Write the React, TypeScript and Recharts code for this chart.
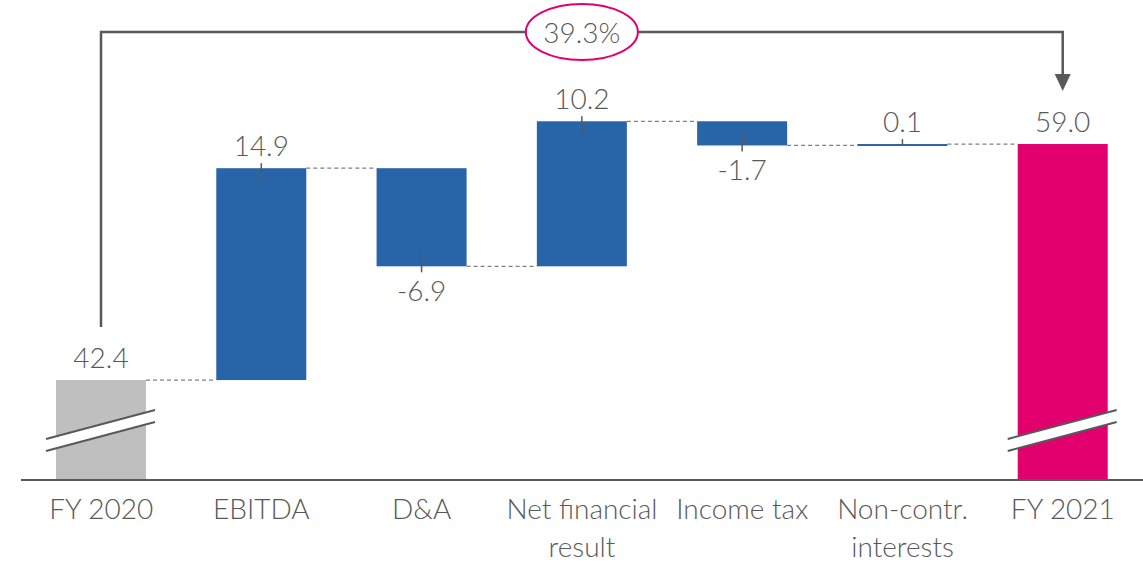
import { BarChart, Bar, XAxis, YAxis, LabelList, Cell } from 'recharts'

// net income walk, FY 2020 -> FY 2021
const categories = ['FY 2020', 'EBITDA', 'D&A', 'Net financial result', 'Income tax', 'Non-contr. interests', 'FY 2021']
const tickLines = [['FY 2020'], ['EBITDA'], ['D&A'], ['Net financial', 'result'], ['Income tax'], ['Non-contr.', 'interests'], ['FY 2021']]
const changes = [42.4, 14.9, -6.9, 10.2, -1.7, 0.1, 59.0]
const isTotal = [true, false, false, false, false, false, true]
const growthLabel = '39.3%'

const AXIS_MIN = 35.37
const AXIS_MAX = 69.13

const W = 1143
const H = 564
const MARGIN = { top: 0, right: 0, left: 21, bottom: 24 }
const BAND = (W - MARGIN.left - MARGIN.right) / categories.length

const TEXT = '#595959'
const FONT = 'Lato, "Open Sans", sans-serif'
const FONT_SIZE = 28
const BLUE = '#2864a8'
const GREY = '#bfbfbf'
const MAGENTA = '#e2006f'

let running = 0
const data = categories.map((name, i) => {
  let lo: number
  let hi: number
  if (isTotal[i]) {
    lo = AXIS_MIN
    hi = changes[i]
    running = changes[i]
  } else {
    const start = running
    running = start + changes[i]
    lo = Math.min(start, running)
    hi = Math.max(start, running)
  }
  return { name, range: [lo, hi], value: changes[i] }
})

const barColor = (i: number) => (i === 0 ? GREY : i === categories.length - 1 ? MAGENTA : BLUE)

const WaterfallShape = (props: any) => {
  const { x, y, width, height, index, fill } = props
  const top = Math.min(y, y + height)
  const h = Math.abs(height)
  const bottom = top + h
  const cx = x + width / 2
  const v = changes[index]
  const total = isTotal[index]
  const up = total || v >= 0
  const endY = up ? top : bottom
  const inside = Math.min(15, h / 2)
  const last = index === categories.length - 1

  return (
    <g>
      <rect x={x} y={top} width={width} height={Math.max(h, 2)} fill={fill} />
      {!total && (
        <line
          x1={cx}
          x2={cx}
          y1={up ? top - 5 : bottom - inside}
          y2={up ? top + inside : bottom + 6}
          stroke={TEXT}
          strokeWidth={1.5}
        />
      )}
      {!last && (
        <line
          x1={x + width}
          x2={x + BAND}
          y1={endY}
          y2={endY}
          stroke="#808080"
          strokeWidth={1.2}
          strokeDasharray="4 3"
        />
      )}
      {total && (
        <g>
          <polygon
            points={`${x - 10},${bottom - 41} ${x + width + 9},${bottom - 70} ${x + width + 9},${bottom - 58} ${x - 10},${bottom - 29}`}
            fill="#fff"
          />
          <line x1={x - 10} y1={bottom - 41} x2={x + width + 9} y2={bottom - 70} stroke={TEXT} strokeWidth={2} />
          <line x1={x - 10} y1={bottom - 29} x2={x + width + 9} y2={bottom - 58} stroke={TEXT} strokeWidth={2} />
        </g>
      )}
      {index === 0 && <GrowthArrow fromX={cx} toX={cx + BAND * (categories.length - 1)} startY={top - 53} />}
    </g>
  )
}

// bracket arrow from first total to last total, with the growth bubble
const GrowthArrow = ({ fromX, toX, startY }: { fromX: number; toX: number; startY: number }) => {
  const lineY = 32
  const mid = (fromX + toX) / 2
  return (
    <g>
      <polyline
        points={`${fromX},${startY} ${fromX},${lineY} ${toX},${lineY} ${toX},${76}`}
        fill="none"
        stroke={TEXT}
        strokeWidth={2.5}
      />
      <polygon points={`${toX - 8},${74} ${toX + 8},${74} ${toX},${91}`} fill={TEXT} />
      <ellipse cx={mid} cy={lineY} rx={56} ry={28} fill="#fff" stroke={MAGENTA} strokeWidth={2} />
      <text x={mid} y={lineY + 11} textAnchor="middle" fontFamily={FONT} fontWeight={300} fontSize={FONT_SIZE} fill={TEXT}>
        {growthLabel}
      </text>
    </g>
  )
}

const renderValueLabel = (props: any) => {
  const vb = props.viewBox && props.viewBox.width !== undefined ? props.viewBox : props
  const { x, y, width, height } = vb
  const index = props.index
  const top = Math.min(y, y + height)
  const bottom = Math.max(y, y + height)
  const v = changes[index]
  const up = isTotal[index] || v >= 0
  return (
    <text
      x={x + width / 2}
      y={up ? top - 12 : bottom + 35}
      textAnchor="middle"
      fontFamily={FONT}
      fontWeight={300}
      fontSize={FONT_SIZE}
      fill={TEXT}
    >
      {v.toFixed(1)}
    </text>
  )
}

const CategoryTick = (props: any) => {
  const { x, y, index } = props
  const lines = tickLines[index] || [props.payload.value]
  return (
    <g>
      {lines.map((line: string, k: number) => (
        <text
          key={k}
          x={x}
          y={y + 37 + k * 38}
          textAnchor="middle"
          fontFamily={FONT}
          fontWeight={300}
          fontSize={FONT_SIZE}
          fill={TEXT}
        >
          {line}
        </text>
      ))}
    </g>
  )
}

export default function App() {
  return (
    <div style={{ position: 'absolute', left: 0, top: 0, width: W, height: H, background: '#fff' }}>
      <BarChart width={W} height={H} data={data} margin={MARGIN} barSize={90}>
        <XAxis
          dataKey="name"
          height={60}
          interval={0}
          tickLine={false}
          tickSize={0}
          axisLine={{ stroke: TEXT, strokeWidth: 2 }}
          tick={<CategoryTick />}
        />
        <YAxis hide type="number" domain={[AXIS_MIN, AXIS_MAX]} allowDataOverflow />
        <Bar dataKey="range" isAnimationActive={false} shape={<WaterfallShape />}>
          {data.map((d, i) => (
            <Cell key={d.name} fill={barColor(i)} />
          ))}
          <LabelList dataKey="value" content={renderValueLabel} />
        </Bar>
      </BarChart>
    </div>
  )
}
